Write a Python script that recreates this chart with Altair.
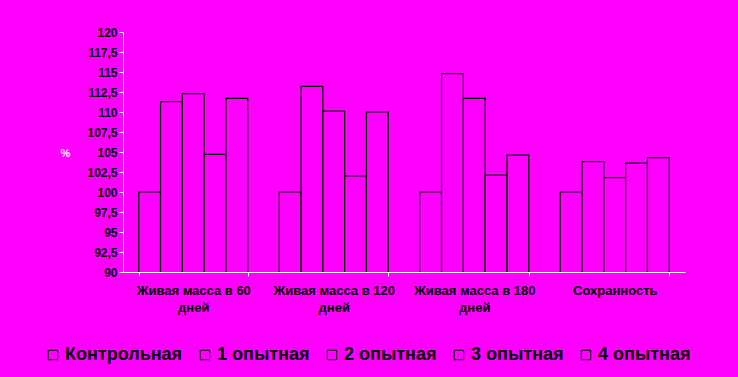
import altair as alt
import pandas as pd

categories = ["Живая масса в 60 дней", "Живая масса в 120 дней", "Живая масса в 180 дней", "Сохранность"]
series = ["Контрольная", "1 опытная", "2 опытная", "3 опытная", "4 опытная"]
values = [
    [100.0, 111.3, 112.3, 104.7, 111.7],
    [100.0, 113.2, 110.1, 102.0, 110.0],
    [100.0, 114.8, 111.7, 102.1, 104.6],
    [100.0, 103.8, 101.8, 103.6, 104.3],
]
y_ticks = [90, 92.5, 95, 97.5, 100, 102.5, 105, 107.5, 110, 112.5, 115, 117.5, 120]

rows = []
for ci, cat in enumerate(categories):
    for si, s in enumerate(series):
        rows.append({"cat": cat, "series": s, "value": values[ci][si]})
df = pd.DataFrame(rows)

MAG = "#FF00FF"

chart = alt.Chart(df).mark_bar(stroke="black", strokeWidth=1.2, clip=True).encode(
    x=alt.X("cat:N", sort=categories, title=None,
            scale=alt.Scale(paddingInner=0.224, paddingOuter=0.112),
            axis=alt.Axis(labelAngle=0, labelFontSize=13, labelFontWeight="bold",
                          labelColor="black", labelFont="Liberation Sans",
                          labelExpr="split(replace(datum.label, ' дней', '|дней'), '|')",
                          labelLineHeight=17, labelPadding=8,
                          domainColor="white", tickColor="white", tickSize=4,
                          tickBand="extent")),
    xOffset=alt.XOffset("series:N", sort=series, scale=alt.Scale(paddingInner=0, paddingOuter=0)),
    y=alt.Y("value:Q", scale=alt.Scale(domain=[90, 120], zero=False, nice=False),
            axis=alt.Axis(values=y_ticks, grid=False, title="%",
                          labelExpr="replace(format(datum.value, '.1~f'), '.', ',')",
                          labelFontSize=12, labelFontWeight="bold", labelColor="black",
                          labelFont="Liberation Sans", labelPadding=2,
                          domainColor="white", tickColor="white", tickSize=4,
                          titleAngle=0, titleX=-58, titleY=121, titleAlign="center",
                          titleBaseline="middle", titleFontSize=11, titleColor="white",
                          titleFont="Liberation Sans", titleFontWeight="bold")),
    color=alt.Color("series:N", sort=series,
                    scale=alt.Scale(domain=series, range=[MAG] * 5),
                    legend=alt.Legend(title=None, orient="none", direction="horizontal",
                                      legendX=-79, legendY=314,
                                      symbolType="square", symbolSize=90,
                                      symbolFillColor=MAG, symbolStrokeColor="black",
                                      symbolStrokeWidth=1,
                                      labelFontSize=18, labelFontWeight="bold",
                                      labelFont="Liberation Sans", labelColor="black",
                                      labelOffset=3, columnPadding=13)),
).properties(
    width=562, height=240,
    background=MAG,
    padding={"left": 115, "top": 24, "right": 45, "bottom": 97},
    autosize=alt.AutoSizeParams(type="none"),
).configure_view(stroke=None)

chart.save("out.html", embed_options={"renderer": "svg", "actions": False})

# make the page margin magenta as well, like the reference
with open("out.html", encoding="utf-8") as f:
    html = f.read()
html = html.replace("<head>", "<head><style>html,body{background:#FF00FF;}</style>", 1)
with open("out.html", "w", encoding="utf-8") as f:
    f.write(html)
